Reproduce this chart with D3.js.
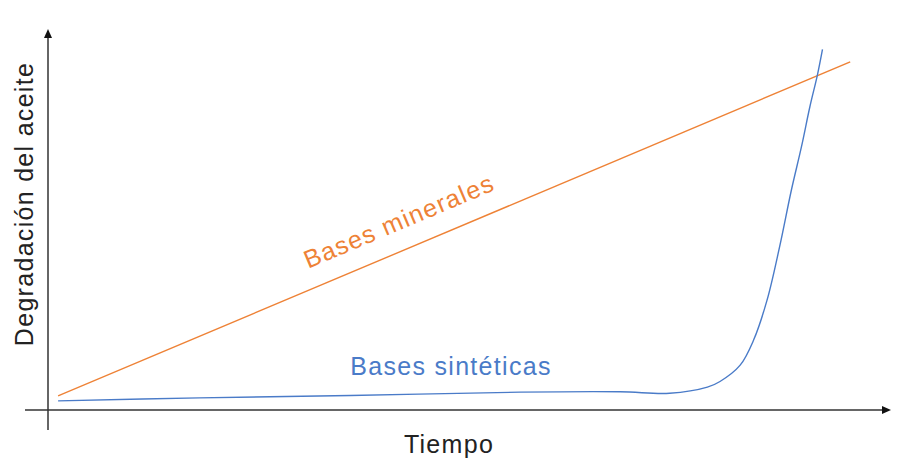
<!DOCTYPE html>
<html>
<head>
<meta charset="utf-8">
<script src="https://cdn.jsdelivr.net/npm/d3@7"></script>
<style>
  body { margin: 0; background: #fff; }
  text { font-family: "Liberation Sans", Arial, sans-serif; letter-spacing: 1.3px; }
</style>
</head>
<body>
<div id="canvas"></div>
<script>
"use strict"

/* Data: time (0-100) vs oil degradation (0-100) */
let mineralTime = [1.2, 95.5];
let mineralValue = [3.7, 91.6];

let syntheticTime = [1.2, 18, 36, 56.2, 68.1, 74, 78.5, 80.0, 82.4, 84.0, 85.6, 87.1, 88.5, 89.7, 90.7, 91.6, 92.2];
let syntheticValue = [2.4, 3.2, 3.8, 4.7, 4.8, 4.4, 6.0, 7.5, 11.8, 18.4, 28.9, 43.0, 57.9, 69.3, 79.8, 88.2, 94.9];

let xTitle = "Tiempo";
let yTitle = "Degradación del aceite";
let mineralLabel = "Bases minerales";
let syntheticLabel = "Bases sintéticas";

/* Drawing config */
let svgWidth = 900;
let svgHeight = 460;
let originX = 48;
let originY = 410;
let axisColor = "#333";
let orange = "#EE8236";
let blue = "#4A7BC8";

let svg = d3.select("#canvas")
    .append("svg")
    .attr("width", svgWidth)
    .attr("height", svgHeight);

let xScale = d3.scaleLinear()
    .domain([0, 100])
    .range([originX, 888]);

let yScale = d3.scaleLinear()
    .domain([0, 100])
    .range([originY, 30]);

/* Axes with arrow heads */
svg.append("line")
    .attr("x1", 25).attr("y1", originY)
    .attr("x2", 884).attr("y2", originY)
    .attr("stroke", axisColor).attr("stroke-width", 1.5);
svg.append("path")
    .attr("d", "M891," + originY + " L882," + (originY - 4) + " L882," + (originY + 4) + " Z")
    .attr("fill", "#111");

svg.append("line")
    .attr("x1", originX).attr("y1", 430)
    .attr("x2", originX).attr("y2", 36)
    .attr("stroke", axisColor).attr("stroke-width", 1.5);
svg.append("path")
    .attr("d", "M" + originX + ",29 L" + (originX - 4) + ",38 L" + (originX + 4) + ",38 Z")
    .attr("fill", "#111");

/* Series */
let mineral = mineralTime.map((t, i) => ({ t: t, v: mineralValue[i] }));
let synthetic = syntheticTime.map((t, i) => ({ t: t, v: syntheticValue[i] }));

let line = d3.line()
    .x(d => xScale(d.t))
    .y(d => yScale(d.v));

svg.append("path")
    .datum(mineral)
    .attr("fill", "none")
    .attr("stroke", orange)
    .attr("stroke-width", 1.4)
    .attr("d", line);

svg.append("path")
    .datum(synthetic)
    .attr("fill", "none")
    .attr("stroke", blue)
    .attr("stroke-width", 1.4)
    .attr("d", line.curve(d3.curveCatmullRom.alpha(0.5)));

/* Series labels */
let p0 = mineral[0], p1 = mineral[1];
let angle = Math.atan2(yScale(p1.v) - yScale(p0.v), xScale(p1.t) - xScale(p0.t)) * 180 / Math.PI;
let tLab = 43.1;
let vLab = p0.v + (p1.v - p0.v) * (tLab - p0.t) / (p1.t - p0.t);

svg.append("text")
    .attr("transform", "translate(" + xScale(tLab) + "," + yScale(vLab) + ") rotate(" + angle + ")")
    .attr("y", -20)
    .attr("text-anchor", "middle")
    .attr("font-size", 25)
    .attr("fill", orange)
    .text(mineralLabel);

svg.append("text")
    .attr("x", 451)
    .attr("y", 375)
    .attr("text-anchor", "middle")
    .attr("font-size", 25)
    .attr("fill", blue)
    .text(syntheticLabel);

/* Axis titles */
svg.append("text")
    .attr("x", 449)
    .attr("y", 453)
    .attr("text-anchor", "middle")
    .attr("font-size", 25)
    .attr("fill", "#222")
    .text(xTitle);

svg.append("text")
    .attr("x", -204)
    .attr("y", 33)
    .attr("text-anchor", "middle")
    .attr("font-size", 25)
    .attr("fill", "#222")
    .attr("transform", "rotate(-90)")
    .text(yTitle);
</script>
</body>
</html>
